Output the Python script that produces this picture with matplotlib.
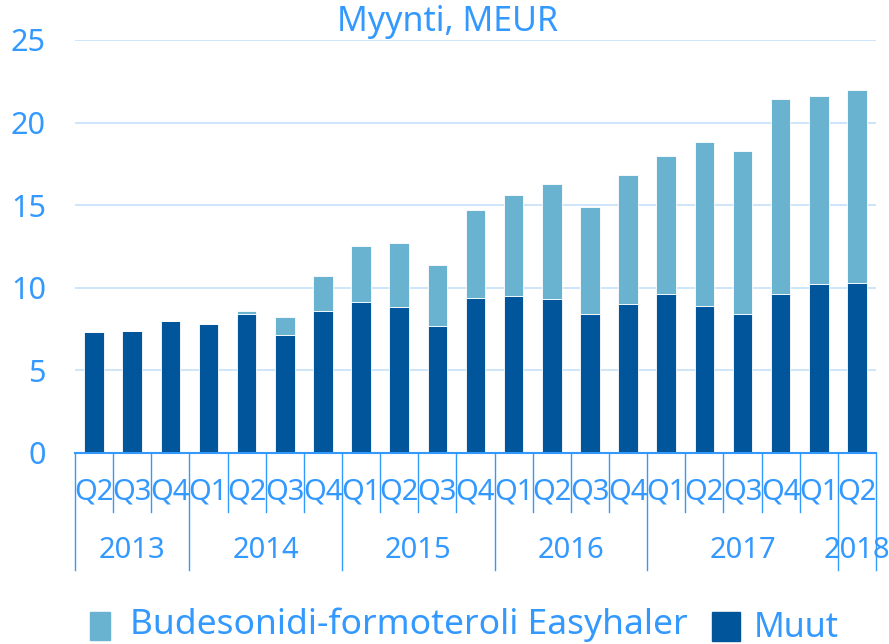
import matplotlib
matplotlib.use("Agg")
import matplotlib.pyplot as plt
from matplotlib.patches import Rectangle
import matplotlib.transforms as mtransforms

plt.rcParams['font.family'] = ['Noto Sans', 'DejaVu Sans']

quarters = ["Q2", "Q3", "Q4", "Q1", "Q2", "Q3", "Q4", "Q1", "Q2", "Q3", "Q4",
            "Q1", "Q2", "Q3", "Q4", "Q1", "Q2", "Q3", "Q4", "Q1", "Q2"]
years = ["2013", "2014", "2015", "2016", "2017", "2018"]
year_bounds = [0, 3, 7, 11, 15, 20, 21]  # category boundaries of year groups
muut = [7.3, 7.4, 8.0, 7.8, 8.4, 7.1, 8.6, 9.1, 8.8, 7.7, 9.4,
        9.5, 9.3, 8.4, 9.0, 9.6, 8.9, 8.4, 9.6, 10.2, 10.3]
easyhaler = [0.0, 0.0, 0.0, 0.0, 0.2, 1.1, 2.1, 3.4, 3.9, 3.7, 5.3,
             6.1, 7.0, 6.5, 7.8, 8.4, 9.9, 9.9, 11.8, 11.4, 11.7]

TXT = '#3399FF'
DARK = '#00559B'
LIGHT = '#69B3D0'
GRID = '#C6E2FA'

fig = plt.figure(figsize=(8.89, 6.44), dpi=100)
ax = fig.add_axes([75/889, 1-452.7/644, (876-75)/889, (452.7-40)/644])

x = list(range(len(quarters)))
ax.bar(x, muut, width=0.51, color=DARK, edgecolor='white', linewidth=0.6, zorder=3)
ax.bar(x, easyhaler, bottom=muut, width=0.51, color=LIGHT, edgecolor='white',
       linewidth=0.6, zorder=3)

ax.set_xlim(-0.5, len(quarters) - 0.5)
ax.set_ylim(0, 25)
ax.set_yticks([0, 5, 10, 15, 20, 25])
ax.tick_params(axis='y', length=0, pad=21, labelsize=22, labelcolor=TXT)
ax.set_xticks([])
for s in ['top', 'right', 'left']:
    ax.spines[s].set_visible(False)
ax.spines['bottom'].set_color(TXT)
ax.spines['bottom'].set_linewidth(1.5)
ax.spines['bottom'].set_zorder(4)

for yv in [5, 10, 15, 20, 25]:
    ax.axhline(yv, color=GRID, linewidth=1.2, zorder=1)

trans = mtransforms.blended_transform_factory(ax.transData, ax.transAxes)
axh = 452.7 - 40
short_y = -(512 - 452.7) / axh
long_y = -(570 - 452.7) / axh
qlab_y = -(492 - 452.7) / axh
ylab_y = -(551 - 452.7) / axh

for b in range(len(quarters) + 1):
    xb = b - 0.5
    yend = long_y if b in year_bounds else short_y
    ax.plot([xb, xb], [0, yend], transform=trans, color=TXT, linewidth=1.0,
            clip_on=False, zorder=4)

for i, q in enumerate(quarters):
    ax.text(i, qlab_y, q, transform=trans, ha='center', va='center',
            fontsize=21, color=TXT)

for k, yr in enumerate(years):
    xc = (year_bounds[k] + year_bounds[k + 1]) / 2 - 0.5
    ax.text(xc, ylab_y, yr, transform=trans, ha='center', va='center',
            fontsize=21, color=TXT)

fig.text(448/889, 1 - 22/644, "Myynti, MEUR", ha='center', va='center',
         fontsize=24.5, color=TXT)

# legend
fig.patches.append(Rectangle((90/889, 1 - 640/644), 20/889, 28/644,
                             transform=fig.transFigure, color=LIGHT))
fig.text(130/889, 1 - 625/644, "Budesonidi-formoteroli Easyhaler", ha='left',
         va='center', fontsize=25.5, color=TXT)
fig.patches.append(Rectangle((712/889, 1 - 641/644), 28/889, 29/644,
                             transform=fig.transFigure, color=DARK))
fig.text(754/889, 1 - 628/644, "Muut", ha='left', va='center', fontsize=24.5,
         color=TXT)

fig.savefig("out.png", dpi=100)
